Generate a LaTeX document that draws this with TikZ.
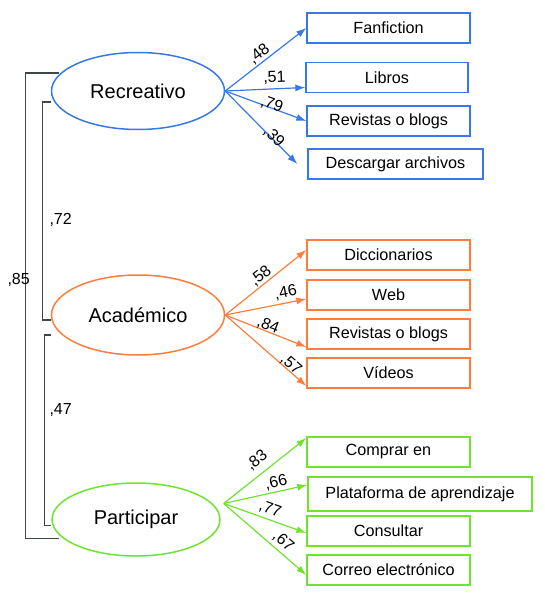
\documentclass[tikz,border=0pt]{standalone}
\usepackage{fontspec}
\setmainfont{Liberation Sans}
\usetikzlibrary{shapes, arrows.meta, positioning, calc}
\definecolor{recblue}{RGB}{55,120,232}
\definecolor{acaorange}{RGB}{255,125,60}
\definecolor{pargreen}{RGB}{112,226,48}
\definecolor{brkgray}{RGB}{62,70,70}

\begin{document}
\begin{tikzpicture}[
      x=1pt, y=-1pt,
      factor/.style={ellipse, draw, line width=1.5pt, minimum width=173pt,
        minimum height=77pt, font=\fontsize{20}{24}\selectfont},
      item/.style={rectangle, draw, line width=1.3pt, minimum width=163pt,
        minimum height=30pt, inner sep=0pt, font=\fontsize{16.2}{19}\selectfont},
      arrow/.style={-{Latex[length=10pt,width=7pt]}, line width=1.2pt},
      load/.style={sloped, inner sep=1pt, text=black, font=\fontsize{16}{18}\selectfont},
      brk/.style={draw=brkgray, line width=1.1pt},
      corr/.style={anchor=west, font=\fontsize{16}{18}\selectfont}
    ]
      \useasboundingbox (0,0) rectangle (544,596);

      % Factors
      \node[factor, draw=recblue] (rec) at (138,91) {Recreativo};
      \node[factor, draw=acaorange, minimum height=80pt] (aca) at (138,315) {Académico};
      \node[factor, draw=pargreen, minimum width=168pt, minimum height=73pt] (par) at (136,519.5) {Participar};

      % Recreativo items
      \node[item, draw=recblue] (fan) at (388.5,28) {Fanfiction};
      \node[item, draw=recblue, minimum width=162pt] (lib) at (387,77.5) {Libros};
      \node[item, draw=recblue] (rev1) at (388.5,121) {Revistas o blogs};
      \node[item, draw=recblue, minimum width=175pt] (desc) at (395.5,164) {Descargar archivos};

      % Academico items
      \node[item, draw=acaorange] (dic) at (388.5,255) {Diccionarios};
      \node[item, draw=acaorange] (web) at (388.5,295) {Web};
      \node[item, draw=acaorange] (rev2) at (388.5,334) {Revistas o blogs};
      \node[item, draw=acaorange] (vid) at (388.5,373) {Vídeos};

      % Participar items
      \node[item, draw=pargreen] (comp) at (388.5,452) {Comprar en};
      \node[item, draw=pargreen, minimum width=224pt, minimum height=34pt] (plat) at (420,494) {Plataforma de aprendizaje};
      \node[item, draw=pargreen] (cons) at (388.5,531) {Consultar};
      \node[item, draw=pargreen] (corr) at (388.5,570) {Correo electrónico};

      % Draw arrows
      \draw[arrow, recblue] (rec.east) -- node[load, pos=.48, above=0pt] {,48} (fan.west);
      \draw[arrow, recblue] (rec.east) -- node[load, pos=.62, above=3pt] {,51} ([yshift=-10pt]lib.west);
      \draw[arrow, recblue] (rec.east) -- node[load, pos=.56, above=-5pt] {,79} (rev1.west);
      \draw[arrow, recblue] (rec.east) -- node[load, pos=.65, above=-6pt] {,39} ([xshift=-10pt]desc.west);

      \draw[arrow, acaorange] (aca.east) -- node[load, pos=.5, above=0pt] {,58} ([yshift=5pt]dic.west);
      \draw[arrow, acaorange] (aca.east) -- node[load, pos=.77, above=2pt] {,46} ([yshift=-4pt]web.west);
      \draw[arrow, acaorange] (aca.east) -- node[load, pos=.5, above=-2pt] {,84} ([yshift=-13pt]rev2.west);
      \draw[arrow, acaorange] (aca.east) -- node[load, pos=.76, above=-2pt] {,57} ([yshift=-13pt]vid.west);

      \coordinate (paro) at ([xshift=3pt,yshift=16pt]par.east);
      \draw[arrow, pargreen] (paro) -- node[load, pos=.5, above=5pt] {,83} ([yshift=14pt]comp.west);
      \draw[arrow, pargreen] (paro) -- node[load, pos=.65, above=1pt] {,66} ([yshift=9pt]plat.west);
      \draw[arrow, pargreen] (paro) -- node[load, pos=.52, above=2pt] {,77} ([yshift=-2pt]cons.west);
      \draw[arrow, pargreen] (paro) -- node[load, pos=.64, above=2pt] {,67} ([yshift=-5pt]corr.west);

      % Correlations
      \draw[brk] ([xshift=8pt,yshift=18pt]rec.west) -- ++(-33,0) |- ([xshift=8pt,yshift=-19pt]par.west);
      \draw[brk] ([yshift=-11pt]rec.west) -- ++(-8,0) |- ([yshift=-5pt]aca.west);
      \draw[brk] ([yshift=-20pt]aca.west) -- ++(-6,0) |- ([yshift=-6pt]par.west);
      \node[corr] (r72) at (46,220) {,72};
      \node[corr] (r85) at (4,280) {,85};
      \node[corr] (r47) at (46,410) {,47};
    \end{tikzpicture}
\end{document}
